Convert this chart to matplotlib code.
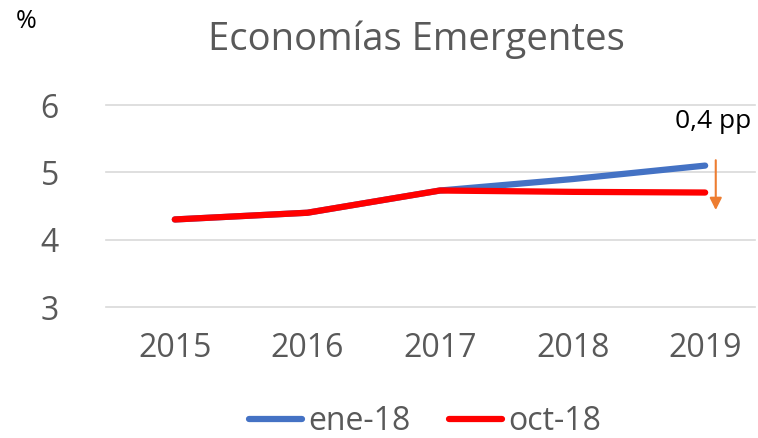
import matplotlib.pyplot as plt
from matplotlib.lines import Line2D

plt.rcParams['font.family'] = ['Open Sans', 'DejaVu Sans']

years = ['2015', '2016', '2017', '2018', '2019']
ene_18 = [4.3, 4.4, 4.73, 4.9, 5.1]
oct_18 = [4.3, 4.4, 4.73, 4.71, 4.7]
y_ticks = [3, 4, 5, 6]

gray = '#595959'

fig = plt.figure(figsize=(7.58, 4.38), dpi=100)
ax = fig.add_axes([106 / 758, 1 - 307 / 438, 649 / 758, 202 / 438])

x = range(len(years))
ax.plot(x, ene_18, color='#4472C4', lw=4.5, solid_capstyle='round', label='ene-18')
ax.plot(x, oct_18, color='#FF0000', lw=4.5, solid_capstyle='round', label='oct-18')

ax.set_xlim(-0.519, 4.376)
ax.set_ylim(3, 6)
ax.set_yticks(y_ticks)
ax.set_xticks(list(x))
ax.set_xticklabels(years)
ax.grid(axis='y', color='#D9D9D9', lw=1.2)
ax.set_axisbelow(True)
for s in ax.spines.values():
    s.set_visible(False)
ax.tick_params(length=0, labelsize=23, labelcolor=gray)
ax.tick_params(axis='x', pad=18)
ax.tick_params(axis='y', pad=34)
for t in ax.get_yticklabels() + ax.get_xticklabels():
    t.set_clip_on(False)
for gl in ax.get_ygridlines():
    gl.set_clip_on(False)

# flecha de la revision
ax.annotate('', xy=(4.08, 4.44), xytext=(4.08, 5.18),
            arrowprops=dict(arrowstyle='-|>', color='#ED7D31', lw=1.5,
                            mutation_scale=18, shrinkA=0, shrinkB=0))
ax.text(4.06, 5.75, '0,4 pp', ha='center', va='center', fontsize=19, color='black')

fig.text(208 / 758, 1 - 40 / 438, 'Economías Emergentes', fontsize=27.5, color=gray,
         va='center', ha='left')
fig.text(16 / 758, 1 - 22 / 438, '%', fontsize=18, color='black', va='center')

handles = [Line2D([], [], color='#4472C4', lw=4.5, solid_capstyle='round'),
           Line2D([], [], color='#FF0000', lw=4.5, solid_capstyle='round')]
fig.legend(handles, ['ene-18', 'oct-18'], loc='center', bbox_to_anchor=(0.561, 1 - 422 / 438),
           ncol=2, frameon=False, fontsize=23, labelcolor=gray, handlelength=1.65,
           handletextpad=0.2, columnspacing=1.2)

fig.savefig('out.png')
